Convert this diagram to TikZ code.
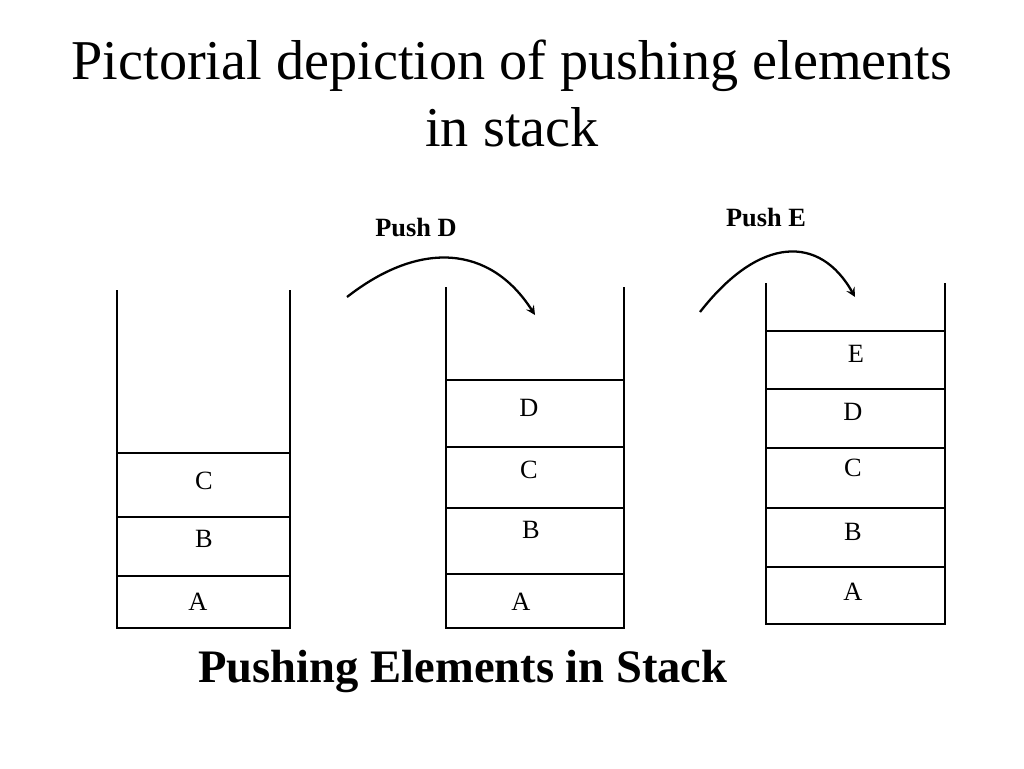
\documentclass[tikz,border=0pt]{standalone}
\usepackage{fontspec}
\setmainfont{Liberation Serif}
\begin{document}
\begin{tikzpicture}[x=0.02cm,y=-0.02cm,
  wall/.style={line width=1.3pt},
  cellname/.style={font=\fontsize{15}{17}\selectfont},
  pushname/.style={font=\fontsize{15}{17}\selectfont\bfseries},
  pusharrow/.style={line width=1.3pt,->,>=stealth}]
\useasboundingbox (0,0) rectangle (1024,768);
\node[font=\fontsize{32}{38}\selectfont] (title) at (512,66) {Pictorial depiction of pushing elements};
\node[font=\fontsize{32}{38}\selectfont] (title2) at (512,127) {in stack};
% first stack
\draw[wall] (117,290) -- (117,628) -- (290,628) -- (290,290);
\foreach \y in {453,517,576} \draw[wall] (117,\y) -- (290,\y);
\node[cellname] (s1c) at (204,481) {C};
\node[cellname] (s1b) at (204,539) {B};
\node[cellname] (s1a) at (198,602) {A};
% second stack
\draw[wall] (446,287) -- (446,628) -- (624,628) -- (624,287);
\foreach \y in {380,447,508,574} \draw[wall] (446,\y) -- (624,\y);
\node[cellname] (s2d) at (529,408) {D};
\node[cellname] (s2c) at (529,470) {C};
\node[cellname] (s2b) at (531,530) {B};
\node[cellname] (s2a) at (521,602) {A};
% third stack
\draw[wall] (766,283) -- (766,624) -- (945,624) -- (945,283);
\foreach \y in {331,389,448,508,567} \draw[wall] (766,\y) -- (945,\y);
\node[cellname] (s3e) at (856,354) {E};
\node[cellname] (s3d) at (853,412) {D};
\node[cellname] (s3c) at (853,468) {C};
\node[cellname] (s3b) at (853,532) {B};
\node[cellname] (s3a) at (853,592) {A};
% push arrows
\node[pushname] (pushd) at (416,228) {Push D};
\node[pushname] (pushe) at (766,218) {Push E};
\coordinate (d0) at (347,297);
\coordinate (d1) at (535,315);
\coordinate (e0) at (700,312);
\coordinate (e1) at (855,297);
\draw[pusharrow] (d0) .. controls (420,240) and (490,245) .. (d1);
\draw[pusharrow] (e0) .. controls (760,235) and (820,235) .. (e1);
\node[font=\fontsize{26.5}{31}\selectfont\bfseries] (caption) at (463,671) {Pushing Elements in Stack};
\end{tikzpicture}
\end{document}
